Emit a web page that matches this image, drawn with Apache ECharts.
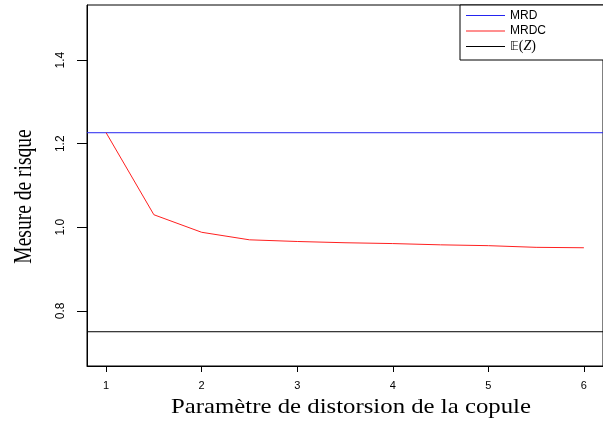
<!DOCTYPE html>
<html>
<head>
<meta charset="utf-8">
<script src="https://cdn.jsdelivr.net/npm/echarts@6/dist/echarts.min.js"></script>
<style>
  html, body { margin: 0; padding: 0; background: #fff; }
  #chart { width: 603px; height: 421px; }
</style>
</head>
<body>
<div id="chart"></div>
<script>
// Distortion parameter of the copula (x) and risk measures
const params = [1, 1.5, 2, 2.5, 3, 3.5, 4, 4.5, 5, 5.5, 6];
const mrdc = [1.2263, 1.030, 0.988, 0.970, 0.966, 0.963, 0.961, 0.958, 0.956, 0.952, 0.951];
const mrd = 1.2263;      // constant MRD level
const expectZ = 0.75;    // E(Z)
const xTicks = [1, 2, 3, 4, 5, 6];
const yTicks = [0.8, 1.0, 1.2, 1.4];
const seriesNames = ['MRD', 'MRDC', 'EZ'];

// axis limits (R-style 4% padding around the data range)
const X_MIN = 0.8, X_MAX = 6.2;
const Y_MIN = 0.668, Y_MAX = 1.532;

const BLUE = '#2424f0';
const RED = '#ff2020';
const BLACK = '#000000';

const chart = echarts.init(document.getElementById('chart'), null, { renderer: 'canvas' });

const sansFont = 'Liberation Sans, Arial, sans-serif';
const serifFont = 'Liberation Serif, Times New Roman, serif';

// horizontal level running across the full x range (like abline(h=...))
function levelSeries(name, value, color) {
  return {
    name: name, type: 'line',
    data: [[X_MIN, value], [X_MAX, value]],
    color: color,
    itemStyle: { color: color },
    lineStyle: { color: color, width: 1 },
    showSymbol: false, symbol: 'none', silent: true
  };
}

const option = {
  animation: false,
  backgroundColor: '#fff',
  grid: {
    left: 87, top: 5, width: 525.5, height: 361,
    show: true, borderColor: '#000', borderWidth: 1, backgroundColor: 'transparent'
  },
  xAxis: {
    type: 'value', min: X_MIN, max: X_MAX,
    splitLine: { show: false },
    axisLine: { show: true, onZero: false, lineStyle: { color: '#000', width: 1 } },
    axisTick: { show: true, customValues: xTicks, length: 6, lineStyle: { color: '#000' } },
    axisLabel: {
      customValues: xTicks, color: '#000', fontFamily: sansFont, fontSize: 11, margin: 14,
      formatter: v => String(v)
    }
  },
  yAxis: {
    type: 'value', min: Y_MIN, max: Y_MAX,
    splitLine: { show: false },
    axisLine: { show: true, onZero: false, lineStyle: { color: '#000', width: 1 } },
    axisTick: { show: true, customValues: yTicks, length: 10, lineStyle: { color: '#000' } },
    axisLabel: {
      customValues: yTicks, rotate: 90, color: '#000', fontFamily: sansFont, fontSize: 12, margin: 20,
      formatter: v => v.toFixed(1)
    }
  },
  legend: {
    orient: 'vertical', left: 460, top: 5,
    padding: [3, 60, 6, 6], itemGap: 0.5,
    itemWidth: 39, itemHeight: 1, icon: 'rect',
    borderColor: '#000', borderWidth: 1, borderRadius: 0, backgroundColor: '#fff',
    data: seriesNames,
    textStyle: {
      color: '#000', fontFamily: sansFont, fontSize: 12, lineHeight: 15,
      rich: {
        bb: { fontFamily: 'DejaVu Sans', fontSize: 12, color: '#000' },
        n: { fontFamily: serifFont, fontSize: 14, color: '#000' },
        it: { fontFamily: serifFont, fontSize: 14, fontStyle: 'italic', color: '#000' }
      }
    },
    formatter: name => name === 'EZ' ? '{bb|𝔼}{n|(}{it|Z}{n|)}' : name
  },
  graphic: [
    {
      type: 'text', x: 351, y: 407, scaleX: 1.18, silent: true,
      style: {
        text: 'Paramètre de distorsion de la copule',
        font: '21px ' + serifFont, fill: '#000', align: 'center', verticalAlign: 'middle'
      }
    },
    {
      type: 'text', x: 25, y: 196.5, rotation: Math.PI / 2, scaleY: 1.25, silent: true,
      style: {
        text: 'Mesure de risque',
        font: '19.5px ' + serifFont, fill: '#000', align: 'center', verticalAlign: 'middle'
      }
    }
  ],
  series: [
    levelSeries('MRD', mrd, BLUE),
    {
      name: 'MRDC', type: 'line', color: RED,
      itemStyle: { color: RED },
      data: params.map((p, i) => [p, mrdc[i]]),
      showSymbol: false, symbol: 'none',
      lineStyle: { color: RED, width: 1 }
    },
    levelSeries('EZ', expectZ, BLACK)
  ]
};

chart.setOption(option);
</script>
</body>
</html>
